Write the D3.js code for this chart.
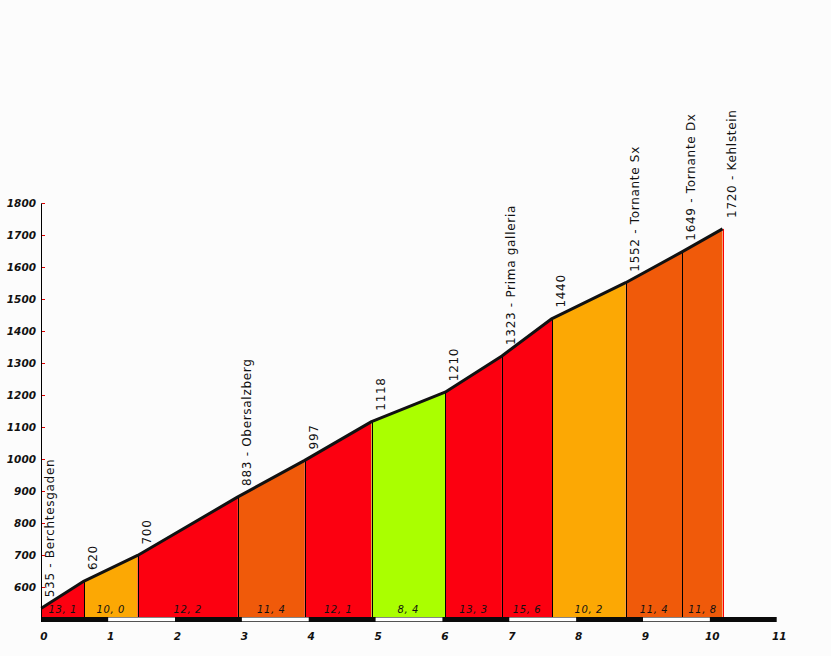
<!DOCTYPE html>
<html><head><meta charset="utf-8">
<script src="https://cdn.jsdelivr.net/npm/d3@7"></script>
<style>
html,body{margin:0;padding:0;background:#fcfcfc;}
svg{display:block;}
text{font-family:"DejaVu Sans",Verdana,sans-serif;}
</style></head>
<body>
<svg id="c" width="831" height="656"></svg>
<script>
// distances (km) of each point
const kms = [0, 0.64, 1.44, 2.94, 3.94, 4.94, 6.04, 6.89, 7.64, 8.74, 9.59, 10.19];
// elevations (m)
const elevations = [535, 620, 700, 883, 997, 1118, 1210, 1323, 1440, 1552, 1649, 1720];
// place names (empty = just elevation)
const places = ["Berchtesgaden", "", "", "Obersalzberg", "", "", "", "Prima galleria", "", "Tornante Sx", "Tornante Dx", "Kehlstein"];
// gradient labels per segment
const gradients = ["13, 1", "10, 0", "12, 2", "11, 4", "12, 1", "8, 4", "13, 3", "15, 6", "10, 2", "11, 4", "11, 8"];
// y tick labels and x tick labels
const yTicks = [600, 700, 800, 900, 1000, 1100, 1200, 1300, 1400, 1500, 1600, 1700, 1800];
const xTicks = [0, 1, 2, 3, 4, 5, 6, 7, 8, 9, 10, 11];

function colorFor(g) {
  const v = parseFloat(g.replace(", ", "."));
  if (v < 9) return "#aaff00";
  if (v < 11) return "#fca804";
  if (v < 12) return "#f05a0a";
  return "#fc0010";
}

const svg = d3.select("#c");
const x = d3.scaleLinear().domain([0, 11]).range([41.3, 776.7]);
const y = d3.scaleLinear().domain([507.8, 1800]).range([617, 203.3]);
const base = y(507.8);

// segments
const segs = gradients.map((g, i) => ({g, i}));
svg.append("g").selectAll("path").data(segs).join("path")
  .attr("d", d => {
    const i = d.i;
    return `M${x(kms[i])},${base}L${x(kms[i])},${y(elevations[i])}L${x(kms[i+1])},${y(elevations[i+1])}L${x(kms[i+1])},${base}Z`;
  })
  .attr("fill", d => colorFor(d.g));

// vertical separators
svg.append("g").selectAll("line").data(kms.slice(1)).join("line")
  .attr("x1", d => Math.round(x(d)) + 0.5).attr("x2", d => Math.round(x(d)) + 0.5)
  .attr("y1", (d, i) => y(elevations[i + 1])).attr("y2", base)
  .attr("stroke", (d, i) => i === kms.length - 2 ? "#ff0000" : "#000")
  .attr("stroke-width", 1);

// profile line
svg.append("path")
  .datum(kms.map((k, i) => [k, elevations[i]]))
  .attr("d", d3.line().x(d => x(d[0])).y(d => y(d[1])))
  .attr("fill", "none").attr("stroke", "#111").attr("stroke-width", 3)
  .attr("stroke-linejoin", "round");

// gradient labels
svg.append("g").selectAll("text").data(segs).join("text")
  .attr("x", d => (x(kms[d.i]) + x(kms[d.i + 1])) / 2)
  .attr("y", 613)
  .attr("text-anchor", "middle")
  .attr("font-size", "10px").attr("font-style", "italic")
  .attr("letter-spacing", "0.6px")
  .attr("fill", "#111")
  .text(d => d.g);

// km bar
svg.append("rect").attr("x", x(0)).attr("y", 617).attr("width", x(11) - x(0)).attr("height", 5).attr("fill", "#0a0a0a");
svg.append("g").selectAll("rect").data(xTicks.filter(k => k % 2 === 1 && k < 11)).join("rect")
  .attr("x", d => x(d)).attr("y", 617.5).attr("width", x(1) - x(0)).attr("height", 3.8)
  .attr("fill", "#ffffff");

// y axis
const yAxis = svg.append("g");
yAxis.append("line").attr("x1", 41.5).attr("x2", 41.5).attr("y1", y(1800)).attr("y2", 622).attr("stroke", "#000");
yAxis.selectAll("line.t").data(yTicks).join("line").attr("class", "t")
  .attr("x1", 42).attr("x2", 45).attr("y1", d => Math.round(y(d)) + 0.5).attr("y2", d => Math.round(y(d)) + 0.5)
  .attr("stroke", "#e00000");
yAxis.selectAll("text").data(yTicks).join("text")
  .attr("x", 36).attr("y", d => y(d) + 4)
  .attr("text-anchor", "end")
  .attr("font-size", "10.5px").attr("font-weight", "bold").attr("font-style", "italic")
  .attr("fill", "#111")
  .text(d => d);

// x axis labels
svg.append("g").selectAll("text").data(xTicks).join("text")
  .attr("x", d => x(d) + 2.5).attr("y", 639.5)
  .attr("text-anchor", "middle")
  .attr("font-size", "10.5px").attr("font-weight", "bold").attr("font-style", "italic")
  .attr("fill", "#111")
  .text(d => d);

// point labels
svg.append("g").selectAll("text").data(kms).join("text")
  .attr("transform", (d, i) => `translate(${x(d) + 13},${y(elevations[i]) - 11}) rotate(-90)`)
  .attr("font-size", "12px")
  .attr("letter-spacing", "0.7px")
  .attr("fill", "#111")
  .text((d, i) => places[i] ? `${elevations[i]} - ${places[i]}` : `${elevations[i]}`);
</script>
</body></html>
